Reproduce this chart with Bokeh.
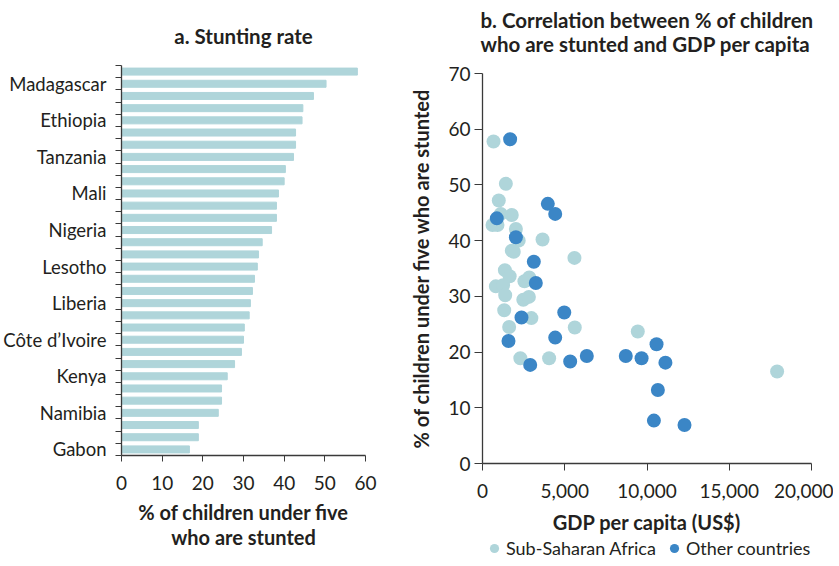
from bokeh.plotting import figure
from bokeh.layouts import row, column
from bokeh.models import (FixedTicker, NumeralTickFormatter, Range1d, Legend,
                          LegendItem, ColumnDataSource, Title)
from bokeh.embed import file_html
from bokeh.resources import INLINE

# ---------------- data ----------------
countries = ["", "Madagascar", "", "", "Ethiopia", "", "", "Tanzania", "", "",
             "Mali", "", "", "Nigeria", "", "", "Lesotho", "", "", "Liberia",
             "", "", "Côte d’Ivoire", "", "", "Kenya", "", "", "Namibia", "",
             "", "Gabon"]
stunting = [58.0, 50.3, 47.2, 44.6, 44.4, 42.8, 42.8, 42.3, 40.3, 40.0, 38.6,
            38.1, 38.1, 36.9, 34.6, 33.7, 33.4, 32.7, 32.2, 31.7, 31.4, 30.2,
            30.0, 29.5, 27.8, 26.0, 24.6, 24.6, 23.8, 18.9, 18.9, 16.7]
bar_ticks = [0, 10, 20, 30, 40, 50, 60]

gdp_ssa = [670, 1420, 990, 1780, 1110, 610, 910, 2030, 2200, 3650, 1780, 1900,
           5590, 1360, 1650, 810, 1250, 1380, 2550, 2840, 2480, 2820, 1320,
           2970, 1620, 5610, 2300, 4050, 9440, 17910]
stunt_ssa = [57.8, 50.2, 47.2, 44.6, 44.8, 42.8, 42.8, 42.1, 40.0, 40.2, 38.2,
             38.0, 36.9, 34.7, 33.6, 31.8, 32.0, 30.2, 32.7, 33.4, 29.4, 29.9,
             27.5, 26.1, 24.5, 24.4, 18.9, 18.9, 23.7, 16.5]
gdp_oth = [1680, 870, 3970, 4420, 2030, 3120, 3240, 2370, 4970, 1580, 4420,
           2900, 5330, 6340, 8710, 9670, 10580, 11120, 10660, 10420, 12280]
stunt_oth = [58.2, 44.0, 46.6, 44.8, 40.6, 36.2, 32.4, 26.2, 27.1, 22.0, 22.6,
             17.7, 18.3, 19.3, 19.3, 18.9, 21.4, 18.1, 13.2, 7.7, 6.9]
gdp_ticks = [0, 5000, 10000, 15000, 20000]
stunt_ticks = [0, 10, 20, 30, 40, 50, 60, 70]
series_names = ["Sub-Saharan Africa", "Other countries"]

FONT = "Lato"
TXT = "#231f20"
AX = "#3a3a3a"
LIGHT = "#afd5da"
DARK = "#3b86c6"


def style_axis(ax, tick_font="19px"):
    ax.axis_line_color = AX
    ax.axis_line_width = 1.3
    ax.major_tick_line_color = AX
    ax.minor_tick_line_color = AX
    ax.major_label_text_font = FONT
    ax.major_label_text_font_size = tick_font
    ax.major_label_text_color = TXT
    ax.axis_label_text_font = FONT
    ax.axis_label_text_font_style = "bold"
    ax.axis_label_text_font_size = "20px"
    ax.axis_label_text_color = TXT
    ax.axis_label_text_line_height = 1.06


def style_title(p, text):
    # small spacer between frame and title
    p.add_layout(Title(text=" ", text_font_size="1px"), "above")
    p.title.text = text
    p.title.align = "center"
    p.title.text_font = FONT
    p.title.text_font_size = "20.5px"
    p.title.text_color = TXT
    p.title.text_line_height = 1.0


# ---------------- left: bar chart ----------------
n = len(stunting)
ypos = [i + 0.5 for i in range(n)]
src = ColumnDataSource(dict(y=ypos, v=stunting))

p1 = figure(frame_width=244, frame_height=390, output_backend="svg",
            toolbar_location=None,
            x_range=Range1d(0, 60), y_range=Range1d(n, 0),
            min_border_left=113, min_border_right=41, min_border_top=65,
            min_border_bottom=85)
p1.hbar(y="y", right="v", left=0, height=0.575, source=src, color=LIGHT)
p1.outline_line_color = None
p1.grid.visible = False
style_title(p1, "a. Stunting rate")

lab_pos = [ypos[i] for i, c in enumerate(countries) if c]
p1.yaxis.ticker = FixedTicker(ticks=lab_pos, minor_ticks=list(range(n + 1)))
p1.yaxis.major_label_overrides = {ypos[i]: c for i, c in enumerate(countries) if c}
style_axis(p1.yaxis[0], "18.5px")
p1.yaxis.major_tick_out = 0
p1.yaxis.major_tick_in = 0
p1.yaxis.minor_tick_out = 6
p1.yaxis.minor_tick_in = 0
p1.yaxis.major_label_standoff = 9

p1.xaxis.ticker = FixedTicker(ticks=bar_ticks)
style_axis(p1.xaxis[0])
p1.xaxis.major_tick_out = 6
p1.xaxis.major_tick_in = 0
p1.xaxis.minor_tick_out = 0
p1.xaxis.minor_tick_in = 0
p1.xaxis.major_label_standoff = 14
p1.xaxis.axis_label = "% of children under five\nwho are stunted"
p1.xaxis.axis_label_standoff = 7

# ---------------- right: scatter ----------------
p2 = figure(frame_width=329, frame_height=390, output_backend="svg",
            toolbar_location=None,
            x_range=Range1d(0, 20000), y_range=Range1d(0, 70),
            min_border_left=72, min_border_right=22, min_border_top=65,
            min_border_bottom=71)
p2.outline_line_color = None
p2.grid.visible = False

p2.scatter(gdp_ssa, stunt_ssa, size=14, color=LIGHT, line_color=None)
p2.scatter(gdp_oth, stunt_oth, size=14, color=DARK, line_color=None)
style_title(p2, "b. Correlation between % of children\nwho are stunted and GDP per capita")

p2.xaxis.ticker = FixedTicker(ticks=gdp_ticks)
p2.xaxis.formatter = NumeralTickFormatter(format="0,0")
style_axis(p2.xaxis[0])
p2.xaxis.major_tick_out = 7
p2.xaxis.major_tick_in = 0
p2.xaxis.minor_tick_out = 0
p2.xaxis.minor_tick_in = 0
p2.xaxis.major_label_standoff = 13
p2.xaxis.axis_label = "GDP per capita (US$)"
p2.xaxis.axis_label_standoff = 9

p2.yaxis.ticker = FixedTicker(ticks=stunt_ticks)
style_axis(p2.yaxis[0])
p2.yaxis.major_tick_out = 8
p2.yaxis.major_tick_in = 0
p2.yaxis.minor_tick_out = 0
p2.yaxis.minor_tick_in = 0
p2.yaxis.major_label_standoff = 4
p2.yaxis.axis_label = "% of children under five who are stunted"
p2.yaxis.axis_label_standoff = 12

# ---------------- legend strip below the scatter ----------------
# same series drawn again, but the strip's ranges keep them out of view;
# only their legend swatches show.
leg = figure(frame_width=329, frame_height=23, output_backend="svg",
             toolbar_location=None, x_axis_type=None, y_axis_type=None,
             x_range=Range1d(-2, -1), y_range=Range1d(-2, -1),
             min_border_left=72, min_border_right=22, min_border_top=0,
             min_border_bottom=0)
leg.outline_line_color = None
leg.grid.visible = False
sw_ssa = leg.scatter(gdp_ssa, stunt_ssa, size=14, color=LIGHT, line_color=None)
sw_oth = leg.scatter(gdp_oth, stunt_oth, size=14, color=DARK, line_color=None)
legend = Legend(items=[LegendItem(label=series_names[0], renderers=[sw_ssa]),
                       LegendItem(label=series_names[1], renderers=[sw_oth])],
                orientation="horizontal", location="center_left",
                label_text_font=FONT, label_text_font_size="18px",
                label_text_color=TXT, glyph_width=24, glyph_height=23,
                label_standoff=0, spacing=6, padding=0, margin=0,
                border_line_color=None, background_fill_alpha=0)
leg.add_layout(legend, "center")

layout = row(p1, column(p2, leg))
open("out.html", "w").write(file_html(layout, INLINE))
